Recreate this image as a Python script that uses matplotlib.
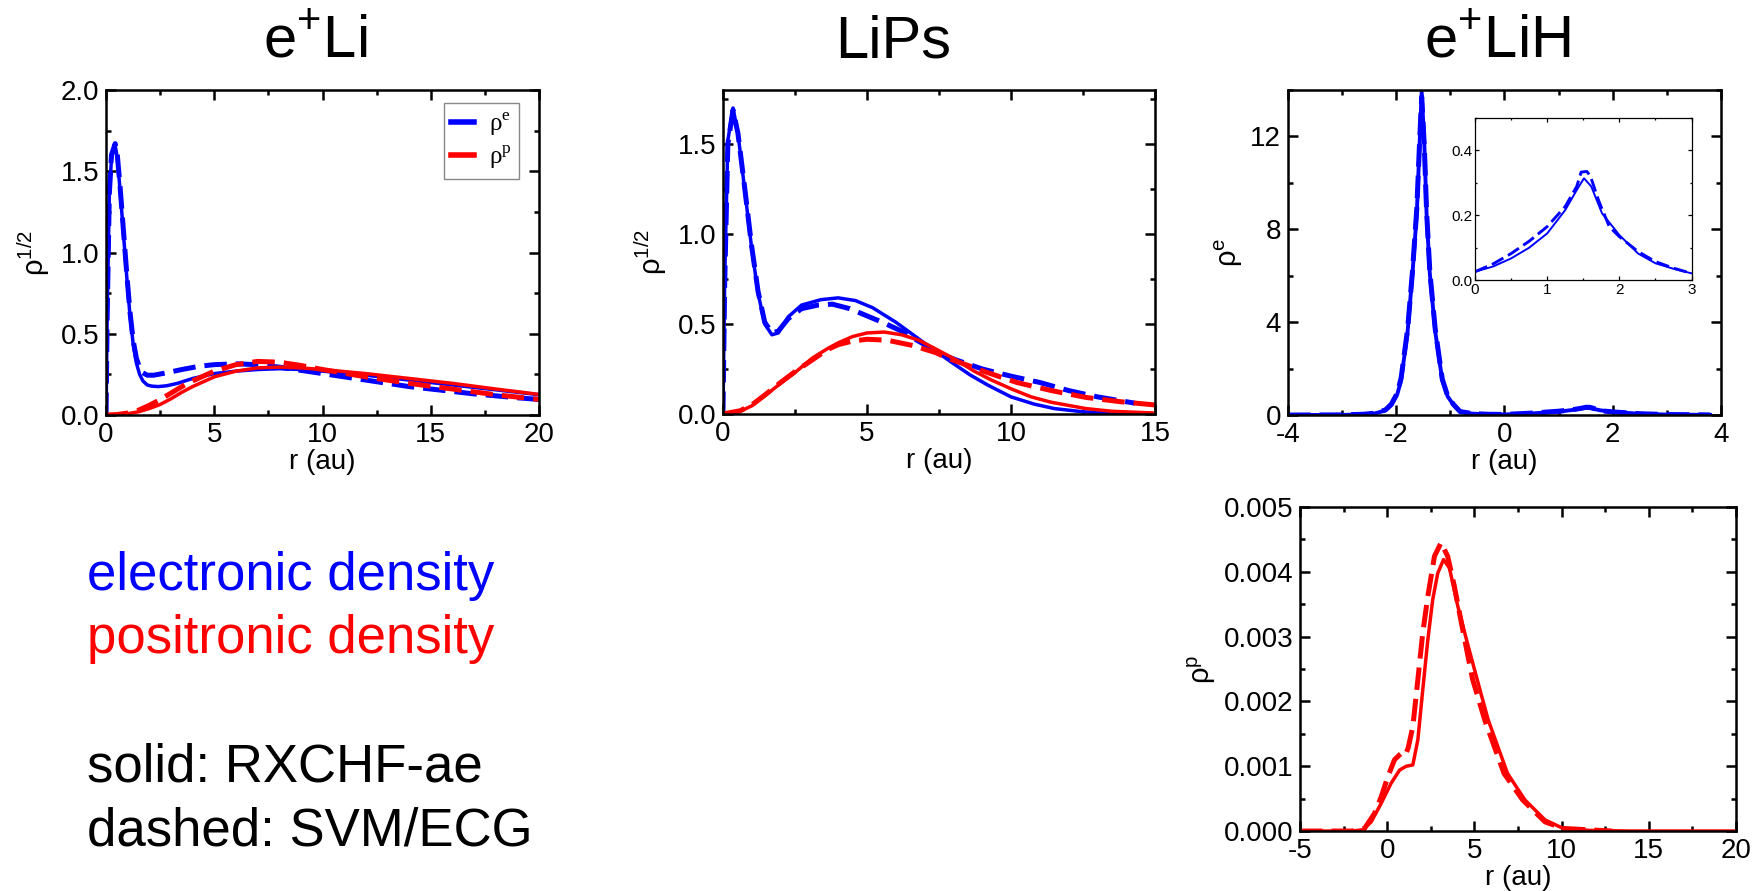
import numpy as np
import matplotlib
matplotlib.use('Agg')
import matplotlib.pyplot as plt
from matplotlib.lines import Line2D
from matplotlib.ticker import MultipleLocator, FormatStrFormatter

plt.rcParams['font.family'] = ['Liberation Sans', 'DejaVu Sans']
plt.rcParams['axes.unicode_minus'] = False

# ---- e+Li : sqrt of radial densities ----
li_r_es = [0, 0.05, 0.15, 0.25, 0.42, 0.52, 0.65, 0.8, 0.95, 1.1, 1.25, 1.4, 1.55, 1.7, 1.9, 2.1, 2.4,
           2.8, 3.3, 4.0, 5.0, 6.0, 7.0, 8.0, 9.0, 10.0, 12.0, 14.0, 16.0, 18.0, 20.0]
li_es = [0.0, 0.6, 1.35, 1.58, 1.66, 1.58, 1.38, 1.12, 0.86, 0.62, 0.44, 0.32, 0.25, 0.21, 0.185, 0.178, 0.175,
         0.18, 0.195, 0.225, 0.255, 0.27, 0.28, 0.285, 0.28, 0.27, 0.245, 0.215, 0.185, 0.155, 0.125]
li_r_ed = [0, 0.05, 0.15, 0.25, 0.42, 0.52, 0.65, 0.8, 0.95, 1.1, 1.25, 1.4, 1.55, 1.7, 1.9, 2.2, 2.8, 3.5,
           4.3, 5.0, 6.0, 7.0, 8.0, 9.0, 10.0, 11.0, 12.0, 13.0, 14.0, 15.0, 16.0, 17.0, 18.0, 19.0, 20.0]
li_ed = [0.0, 0.6, 1.36, 1.6, 1.67, 1.6, 1.4, 1.14, 0.88, 0.64, 0.46, 0.35, 0.29, 0.26, 0.245, 0.245, 0.26, 0.28,
         0.30, 0.31, 0.315, 0.31, 0.295, 0.275, 0.255, 0.235, 0.215, 0.195, 0.175, 0.16, 0.145, 0.13, 0.118, 0.106, 0.096]
li_r_p = [0, 0.5, 1.0, 1.5, 2.0, 2.5, 3.0, 3.5, 4.0, 5.0, 6.0, 7.0, 8.0, 9.0, 10.0, 12.0, 14.0, 16.0, 18.0, 20.0]
li_ps = [0, 0.002, 0.008, 0.02, 0.04, 0.065, 0.1, 0.14, 0.175, 0.235, 0.27, 0.29, 0.295, 0.29, 0.28,
         0.255, 0.225, 0.195, 0.16, 0.127]
li_pd = [0, 0.003, 0.012, 0.03, 0.06, 0.095, 0.135, 0.175, 0.21, 0.27, 0.31, 0.33, 0.325, 0.305, 0.28,
         0.235, 0.195, 0.16, 0.125, 0.096]

# ---- LiPs ----
ps_r_es = [0, 0.06, 0.17, 0.35, 0.52, 0.76, 0.99, 1.22, 1.45, 1.7, 1.92, 2.27, 2.73, 3.4, 4.0, 4.6, 5.2, 6.0,
           6.6, 7.2, 8.0, 8.6, 9.2, 10.0, 10.8, 11.5, 12.5, 13.5, 15.0]
ps_es = [0, 0.74, 1.52, 1.70, 1.56, 1.24, 0.93, 0.67, 0.50, 0.44, 0.45, 0.54, 0.605, 0.635, 0.645, 0.63, 0.59,
         0.51, 0.44, 0.37, 0.28, 0.215, 0.16, 0.095, 0.055, 0.03, 0.012, 0.004, 0.0]
ps_r_ed = [0, 0.06, 0.17, 0.35, 0.52, 0.76, 0.99, 1.22, 1.45, 1.7, 1.92, 2.27, 2.73, 3.3, 3.8, 4.4, 5.0, 5.6,
           6.2, 7.0, 7.6, 8.1, 9.0, 10.0, 11.0, 12.0, 13.0, 14.3]
ps_ed = [0, 0.72, 1.5, 1.69, 1.56, 1.25, 0.94, 0.68, 0.51, 0.45, 0.46, 0.53, 0.585, 0.605, 0.61, 0.585, 0.545,
         0.505, 0.46, 0.385, 0.33, 0.30, 0.25, 0.21, 0.175, 0.13, 0.095, 0.06]
ps_r_ps = [0, 0.6, 1.0, 1.45, 2.0, 2.5, 3.1, 3.6, 4.0, 4.5, 5.0, 5.6, 6.2, 6.8, 7.4, 8.1, 8.7, 9.3, 10.0,
           10.7, 11.4, 12.6, 13.5, 15.0]
ps_ps = [0, 0.015, 0.045, 0.1, 0.17, 0.23, 0.31, 0.36, 0.395, 0.43, 0.45, 0.455, 0.44, 0.41, 0.36, 0.30,
         0.24, 0.19, 0.14, 0.095, 0.065, 0.03, 0.015, 0.005]
ps_r_pd = [0, 0.6, 1.0, 1.45, 2.0, 2.5, 3.1, 3.6, 4.0, 4.5, 5.0, 5.7, 6.6, 7.4, 7.8, 8.5, 9.0, 10.2, 11.4,
           12.6, 13.8, 15.0]
ps_pd = [0, 0.018, 0.05, 0.105, 0.175, 0.235, 0.3, 0.355, 0.385, 0.405, 0.415, 0.41, 0.38, 0.34, 0.31, 0.27,
         0.24, 0.175, 0.13, 0.092, 0.068, 0.05]

# ---- e+LiH : electronic density along the bond ----
lih_z_s = [-4.0, -3.0, -2.6, -2.39, -2.2, -2.09, -1.98, -1.91, -1.79, -1.70, -1.62, -1.57, -1.53, -1.48, -1.44,
           -1.38, -1.28, -1.15, -1.05, -0.94, -0.82, -0.6, -0.3, 0.0, 0.5, 1.0, 1.25, 1.41, 1.51, 1.61, 1.76,
           2.0, 2.5, 3.0, 3.8]
lih_es = [0.0, 0.005, 0.03, 0.07, 0.2, 0.43, 0.9, 1.5, 3.6, 6.1, 8.7, 11.6, 13.9, 11.6, 8.7, 6.1, 3.6, 1.5,
          0.8, 0.43, 0.14, 0.06, 0.03, 0.026, 0.067, 0.144, 0.216, 0.278, 0.314, 0.289, 0.206, 0.139, 0.052,
          0.021, 0.005]
lih_z_d = [-4.0, -3.0, -2.6, -2.39, -2.2, -2.09, -1.98, -1.91, -1.79, -1.70, -1.62, -1.57, -1.53, -1.48, -1.44,
           -1.38, -1.28, -1.15, -1.05, -0.94, -0.82, -0.6, -0.3, 0.0, 0.5, 1.0, 1.25, 1.41, 1.51, 1.58, 1.71,
           1.86, 2.0, 2.5, 3.0, 3.8]
lih_ed = [0.0, 0.006, 0.035, 0.08, 0.22, 0.47, 0.95, 1.6, 3.7, 6.2, 8.9, 11.7, 13.7, 11.5, 8.8, 6.2, 3.7,
          1.55, 0.82, 0.45, 0.15, 0.065, 0.032, 0.026, 0.082, 0.165, 0.227, 0.289, 0.335, 0.33, 0.247, 0.165,
          0.134, 0.057, 0.021, 0.005]

# inset: region around the H nucleus
ins_z_s = [0, 0.25, 0.5, 0.75, 1.0, 1.25, 1.41, 1.51, 1.61, 1.76, 2.0, 2.26, 2.5, 2.75, 3.0]
ins_es = [0.026, 0.042, 0.067, 0.1, 0.144, 0.216, 0.278, 0.314, 0.289, 0.206, 0.139, 0.082, 0.052, 0.035, 0.021]
ins_z_d = [0, 0.25, 0.5, 0.75, 1.0, 1.25, 1.41, 1.47, 1.55, 1.6, 1.71, 1.86, 2.0, 2.26, 2.5, 2.75, 3.0]
ins_ed = [0.026, 0.05, 0.082, 0.12, 0.165, 0.227, 0.289, 0.333, 0.335, 0.32, 0.247, 0.165, 0.134, 0.088,
          0.057, 0.037, 0.021]

# ---- e+LiH : positronic density ----
lih_zp_s = [-5, -2, -1.4, -0.92, -0.34, 0.23, 0.71, 1.09, 1.47, 1.76, 2.04, 2.33, 2.61, 2.9, 3.23, 3.57, 4.05,
            4.6, 5.0, 5.4, 5.8, 6.9, 7.9, 9.06, 10.1, 11.6, 14, 20]
lih_ps = [0, 0, 0.00002, 0.00014, 0.00043, 0.00074, 0.00094, 0.001, 0.00102, 0.00141, 0.00218, 0.00295,
          0.00357, 0.00398, 0.00419, 0.00406, 0.00347, 0.0029, 0.0025, 0.0021, 0.00171, 0.00089, 0.00048,
          0.00017, 0.00004, 0.00001, 0, 0]
lih_zp_d = [-5, -2, -1.3, -0.73, -0.34, 0.04, 0.42, 0.8, 1.03, 1.2, 1.47, 1.76, 2.04, 2.33, 2.71, 3.09, 3.47,
            3.85, 4.33, 4.9, 5.6, 6.7, 7.77, 9.06, 10.1, 12.9]
lih_pd = [0, 0, 0.00004, 0.00027, 0.00053, 0.00084, 0.0011, 0.0012, 0.00117, 0.00128, 0.00161, 0.00234,
          0.00306, 0.00362, 0.00424, 0.00445, 0.00424, 0.00378, 0.00311, 0.00234, 0.00171, 0.00089, 0.00048,
          0.00014, 0.00004, 0]

BLUE = '#0000ff'
RED = '#ff0000'
DASH = (4.5, 1.8)
LW_S = 2.5    # solid lines
LW_D = 3.6    # dashed lines


def frame(ax, xmaj, xmin, ymaj, ymin, big=True):
    # grace-like box: ticks inside on every side
    ax.xaxis.set_major_locator(MultipleLocator(xmaj))
    ax.xaxis.set_minor_locator(MultipleLocator(xmin))
    ax.yaxis.set_major_locator(MultipleLocator(ymaj))
    ax.yaxis.set_minor_locator(MultipleLocator(ymin))
    if big:
        ax.tick_params(which='major', direction='in', length=7, width=1.8, labelsize=20, pad=5,
                       top=True, right=True)
        ax.tick_params(which='minor', direction='in', length=3.5, width=1.8, top=True, right=True)
        for s in ax.spines.values():
            s.set_linewidth(1.8)
    else:
        ax.tick_params(which='major', direction='in', length=3, width=0.9, labelsize=11, pad=2,
                       top=True, right=True)
        ax.tick_params(which='minor', direction='in', length=1.5, width=0.9, top=True, right=True)
        for s in ax.spines.values():
            s.set_linewidth(0.9)


fig = plt.figure(figsize=(17.62, 8.91), dpi=100)

# e+Li
ax1 = fig.add_axes([0.0602, 0.5342, 0.2457, 0.3648])
ax1.plot(li_r_es, li_es, color=BLUE, lw=LW_S)
ax1.plot(li_r_ed, li_ed, color=BLUE, lw=LW_D, dashes=DASH)
ax1.plot(li_r_p, li_ps, color=RED, lw=LW_S)
ax1.plot(li_r_p, li_pd, color=RED, lw=LW_D, dashes=DASH)
ax1.set_xlim(0, 20)
ax1.set_ylim(0, 2.0)
frame(ax1, 5, 2.5, 0.5, 0.25)
ax1.yaxis.set_major_formatter(FormatStrFormatter('%.1f'))
ax1.set_xlabel('r (au)', fontsize=20, labelpad=1)
ax1.set_ylabel(r'ρ$^{\mathregular{1/2}}$', fontsize=21, labelpad=6)
handles = [Line2D([], [], color=BLUE, lw=4), Line2D([], [], color=RED, lw=4)]
leg = ax1.legend(handles, [r'ρ$^{\mathregular{e}}$', r'ρ$^{\mathregular{p}}$'], loc='upper right',
                 bbox_to_anchor=(0.954, 0.96), borderaxespad=0, fancybox=False, edgecolor='#888888',
                 framealpha=1, prop={'family': 'Liberation Serif', 'size': 18}, handlelength=0.9,
                 handletextpad=0.6, borderpad=0.3, labelspacing=0.25)
leg.get_frame().set_linewidth(1.0)

# LiPs
ax2 = fig.add_axes([0.4103, 0.5354, 0.2452, 0.3636])
ax2.plot(ps_r_es, ps_es, color=BLUE, lw=LW_S)
ax2.plot(ps_r_ed, ps_ed, color=BLUE, lw=LW_D, dashes=DASH)
ax2.plot(ps_r_ps, ps_ps, color=RED, lw=LW_S)
ax2.plot(ps_r_pd, ps_pd, color=RED, lw=LW_D, dashes=DASH)
ax2.set_xlim(0, 15)
ax2.set_ylim(0, 1.8)
frame(ax2, 5, 2.5, 0.5, 0.25)
ax2.yaxis.set_major_formatter(FormatStrFormatter('%.1f'))
ax2.set_xlabel('r (au)', fontsize=20, labelpad=1)
ax2.set_ylabel(r'ρ$^{\mathregular{1/2}}$', fontsize=21, labelpad=6)

# e+LiH electrons, with zoom on the H side
ax3 = fig.add_axes([0.7310, 0.5342, 0.2457, 0.3648])
ax3.plot(lih_z_s, lih_es, color=BLUE, lw=2.8)
ax3.plot(lih_z_d, lih_ed, color=BLUE, lw=LW_D, dashes=DASH)
ax3.set_xlim(-4, 4)
ax3.set_ylim(0, 14)
frame(ax3, 2, 1, 4, 2)
ax3.set_xlabel('r (au)', fontsize=20, labelpad=1)
ax3.set_ylabel(r'ρ$^{\mathregular{e}}$', fontsize=21, labelpad=4)

axin = ax3.inset_axes([0.432, 0.415, 0.5, 0.499])
axin.plot(ins_z_s, ins_es, color=BLUE, lw=1.4)
axin.plot(ins_z_d, ins_ed, color=BLUE, lw=2.1, dashes=DASH)
axin.set_xlim(0, 3)
axin.set_ylim(0, 0.5)
frame(axin, 1, 0.5, 0.2, 0.1, big=False)
axin.yaxis.set_major_formatter(FormatStrFormatter('%.1f'))

# e+LiH positron
ax4 = fig.add_axes([0.7378, 0.0673, 0.2474, 0.3636])
ax4.plot(lih_zp_s, lih_ps, color=RED, lw=LW_S)
ax4.plot(lih_zp_d, lih_pd, color=RED, lw=LW_D, dashes=DASH)
ax4.set_xlim(-5, 20)
ax4.set_ylim(0, 0.005)
frame(ax4, 5, 2.5, 0.001, 0.0005)
ax4.yaxis.set_major_formatter(FormatStrFormatter('%.3f'))
ax4.set_xlabel('r (au)', fontsize=20, labelpad=1)
ax4.set_ylabel(r'ρ$^{\mathregular{p}}$', fontsize=21, labelpad=4)

# system names
fig.text(0.1788, 0.936, r'e$^{\mathregular{+}}$Li', fontsize=43, ha='center', va='baseline')
fig.text(0.5068, 0.936, 'LiPs', fontsize=43, ha='center', va='baseline')
fig.text(0.8500, 0.936, r'e$^{\mathregular{+}}$LiH', fontsize=43, ha='center', va='baseline')

# colour / line-style key
fig.text(0.0494, 1 - 590 / 891, 'electronic density', color=BLUE, fontsize=38, va='baseline')
fig.text(0.0494, 1 - 653 / 891, 'positronic density', color=RED, fontsize=38, va='baseline')
fig.text(0.0494, 1 - 782 / 891, 'solid: RXCHF-ae', color='black', fontsize=38, va='baseline')
fig.text(0.0494, 1 - 845 / 891, 'dashed: SVM/ECG', color='black', fontsize=38, va='baseline')

plt.savefig('out.png', dpi=100)
